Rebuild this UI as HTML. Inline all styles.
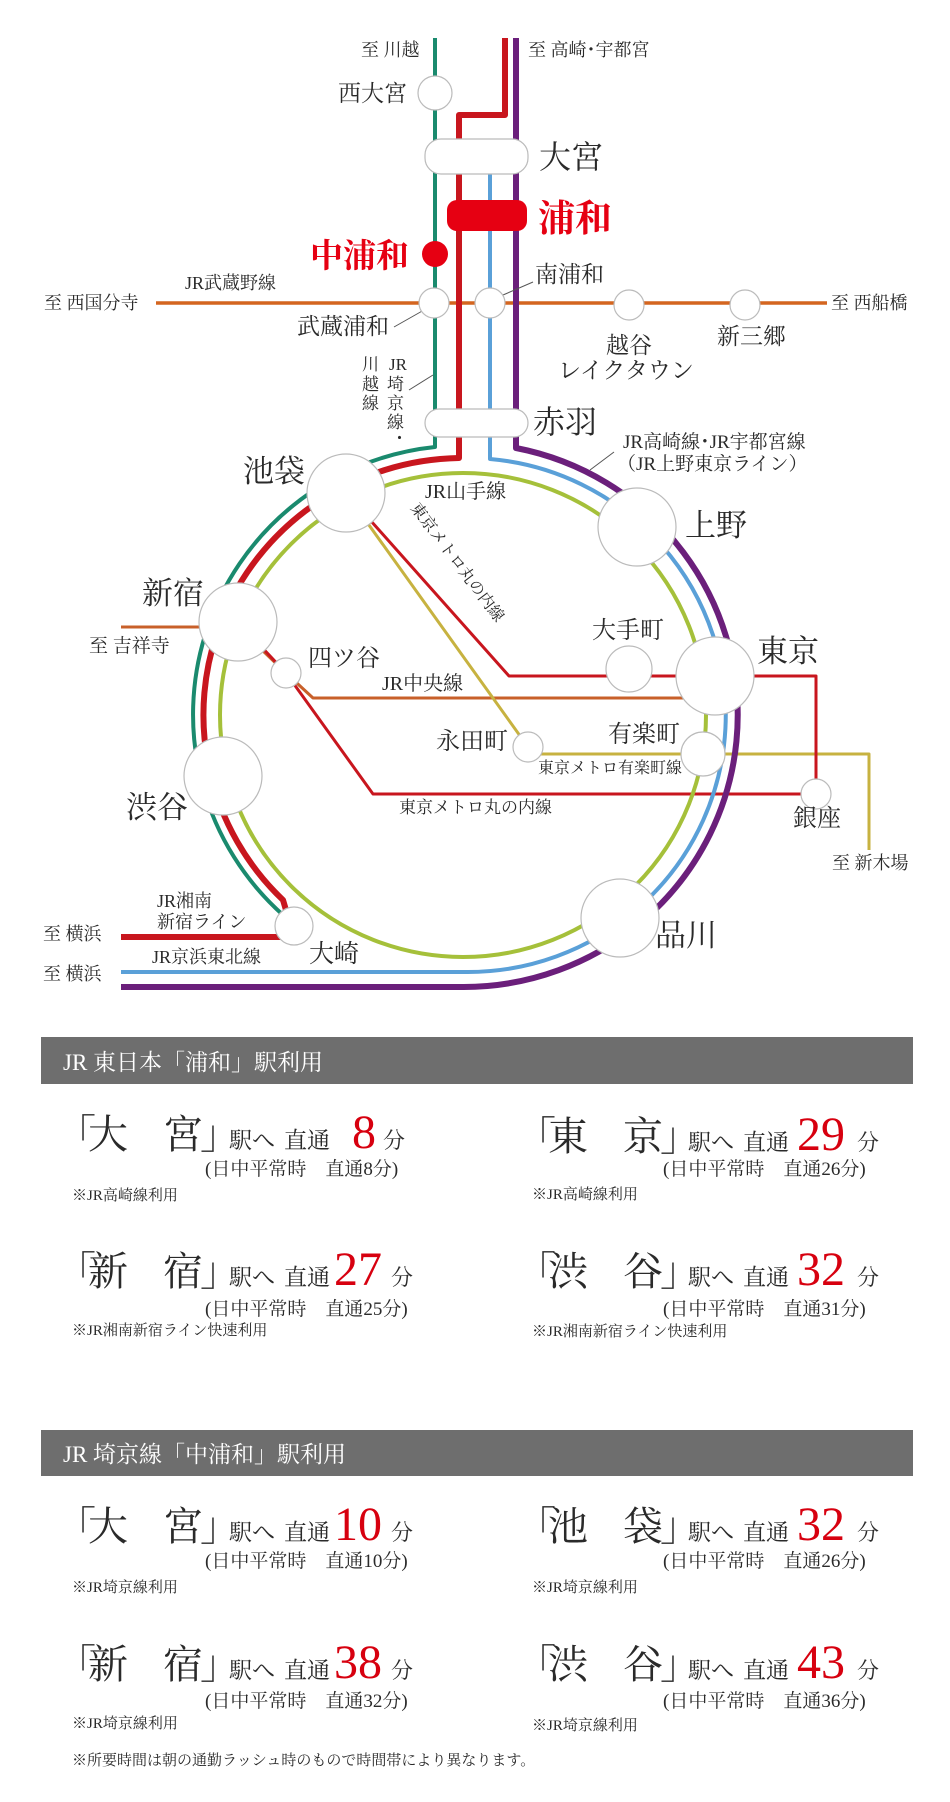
<!DOCTYPE html>
<html><head><meta charset="utf-8"><style>
html,body{margin:0;padding:0;background:#fff;}
svg{display:block;}
text{font-family:"Liberation Serif","Noto Serif CJK SC",serif;fill:#2a2a2a;}
</style></head><body>
<svg width="950" height="1802" viewBox="0 0 950 1802" xmlns="http://www.w3.org/2000/svg">
<g fill="none" stroke-linejoin="round">
<path d="M156 303 H827" stroke="#d4651f" stroke-width="3.5"/>
<path d="M121 627 H238 L286 673 L313 698 H700" stroke="#c8602a" stroke-width="3"/>
<path d="M346 493 L528 747 V754 H869 V850" stroke="#c7b240" stroke-width="3"/>
<path d="M346 493 L509 676 H816 V794" stroke="#c8161e" stroke-width="3"/>
<path d="M238 622 L286 673 L373 794 H816" stroke="#c8161e" stroke-width="3"/>
<ellipse cx="463" cy="715" rx="243" ry="242" stroke="#a5c03a" stroke-width="4"/>
<path d="M435 38 V447 A270 269 0 0 0 283 915 L294 926" stroke="#1a8a6e" stroke-width="4"/>
<path d="M505 38 V115 H459 V458 A260 257 0 0 0 283 900 L294 937 H121" stroke="#c8161e" stroke-width="6"/>
<path d="M490 174 V459 A258 257 0 0 1 463 972 H121" stroke="#5aa0d8" stroke-width="4"/>
<path d="M516 38 V448 A274 272 0 0 1 463 987 H121" stroke="#6b1f7b" stroke-width="6"/>
<path d="M394 327 L424 310 M533 282 L503 295 M409 390 L433 375 M590 470 L614 452" stroke="#555" stroke-width="1"/>
</g>
<g stroke="#bbb" stroke-width="1.2" fill="#fff">
<rect x="425" y="139" width="103" height="35" rx="16"/>
<rect x="425" y="409" width="103" height="28" rx="14"/>
<circle cx="435" cy="93" r="17"/>
<circle cx="434" cy="303" r="15"/>
<circle cx="490" cy="303" r="15"/>
<circle cx="629" cy="305" r="15"/>
<circle cx="745" cy="305" r="15"/>
<circle cx="346" cy="493" r="39"/>
<circle cx="637" cy="527" r="39"/>
<circle cx="238" cy="622" r="39"/>
<circle cx="715" cy="676" r="39"/>
<circle cx="223" cy="776" r="39"/>
<circle cx="620" cy="918" r="39"/>
<circle cx="294" cy="926" r="19"/>
<circle cx="286" cy="673" r="15"/>
<circle cx="629" cy="669" r="23"/>
<circle cx="703" cy="754" r="22"/>
<circle cx="528" cy="747" r="15"/>
<circle cx="816" cy="794" r="15"/>
</g>
<rect x="447" y="200" width="80" height="31" rx="10" fill="#e60012"/>
<circle cx="435" cy="254" r="13" fill="#e60012"/>

<g font-size="18">
<text x="361" y="56">至 川越</text>
<text x="528" y="56">至 高崎･宇都宮</text>
<text x="44" y="309">至 西国分寺</text>
<text x="185" y="289">JR武蔵野線</text>
<text x="831" y="309">至 西船橋</text>
<text x="89" y="652" font-size="19">至 吉祥寺</text>
<text x="832" y="869">至 新木場</text>
<text x="157" y="907">JR湘南</text>
<text x="157" y="928">新宿ライン</text>
<text x="43" y="940">至 横浜</text>
<text x="43" y="980">至 横浜</text>
<text x="152" y="963">JR京浜東北線</text>
</g>
<g font-size="19">
<text x="623" y="448">JR高崎線･JR宇都宮線</text>
<text x="617" y="470">（JR上野東京ライン）</text>
<text x="425" y="498" font-size="20">JR山手線</text>
<text x="382" y="690" font-size="20">JR中央線</text>
</g>
<text x="538" y="773" font-size="16">東京メトロ有楽町線</text>
<text x="399" y="813" font-size="17">東京メトロ丸の内線</text>
<text transform="translate(410,508) rotate(53)" font-size="16">東京メトロ丸の内線</text>
<g font-size="17">
<text x="389" y="370">JR</text><text x="387" y="390">埼</text><text x="387" y="409">京</text><text x="387" y="428">線</text><text x="391" y="444">・</text>
<text x="362" y="370">川</text><text x="362" y="390">越</text><text x="362" y="409">線</text>
</g>
<g font-size="23">
<text x="338" y="101">西大宮</text>
<text x="297" y="334">武蔵浦和</text>
<text x="535" y="282">南浦和</text>
<text x="606" y="353">越谷</text>
<text x="558" y="378">レイクタウン</text>
<text x="717" y="344">新三郷</text>
<text x="308" y="666" font-size="24">四ツ谷</text>
<text x="592" y="638" font-size="24">大手町</text>
<text x="608" y="742" font-size="24">有楽町</text>
<text x="436" y="749" font-size="24">永田町</text>
<text x="793" y="826" font-size="24">銀座</text>
<text x="309" y="962" font-size="25">大崎</text>
</g>
<g font-size="31">
<text x="539" y="168" font-size="32">大宮</text>
<text x="533" y="433" font-size="32">赤羽</text>
<text x="243" y="482">池袋</text>
<text x="685" y="536">上野</text>
<text x="142" y="604">新宿</text>
<text x="757" y="662">東京</text>
<text x="126" y="818">渋谷</text>
<text x="655" y="946">品川</text>
</g>
<text x="538" y="231" font-size="37" font-weight="bold" style="fill:#e60012">浦和</text>
<text x="310" y="267" font-size="33" font-weight="bold" style="fill:#e60012">中浦和</text>

<rect x="41" y="1037" width="872" height="47" fill="#6e6e6e"/>
<text x="63" y="1070" font-size="23" style="fill:#fff">JR 東日本「浦和」駅利用</text>
<rect x="41" y="1430" width="872" height="46" fill="#6e6e6e"/>
<text x="63" y="1462" font-size="23" style="fill:#fff">JR 埼京線「中浦和」駅利用</text>

<g font-size="40">
<text x="56" y="1148">「</text><text x="88" y="1148">大</text><text x="163" y="1148">宮</text><text x="200" y="1148">」</text>
<text x="516" y="1150">「</text><text x="548" y="1150">東</text><text x="623" y="1150">京</text><text x="660" y="1150">」</text>
<text x="56" y="1285">「</text><text x="88" y="1285">新</text><text x="163" y="1285">宿</text><text x="200" y="1285">」</text>
<text x="516" y="1285">「</text><text x="548" y="1285">渋</text><text x="623" y="1285">谷</text><text x="660" y="1285">」</text>
<text x="56" y="1540">「</text><text x="88" y="1540">大</text><text x="163" y="1540">宮</text><text x="200" y="1540">」</text>
<text x="516" y="1540">「</text><text x="548" y="1540">池</text><text x="623" y="1540">袋</text><text x="660" y="1540">」</text>
<text x="56" y="1678">「</text><text x="88" y="1678">新</text><text x="163" y="1678">宿</text><text x="200" y="1678">」</text>
<text x="516" y="1678">「</text><text x="548" y="1678">渋</text><text x="623" y="1678">谷</text><text x="660" y="1678">」</text>
</g>
<g font-size="23">
<text x="229" y="1148">駅へ</text><text x="284" y="1148">直通</text>
<text x="688" y="1150">駅へ</text><text x="743" y="1150">直通</text>
<text x="229" y="1285">駅へ</text><text x="284" y="1285">直通</text>
<text x="688" y="1285">駅へ</text><text x="743" y="1285">直通</text>
<text x="229" y="1540">駅へ</text><text x="284" y="1540">直通</text>
<text x="688" y="1540">駅へ</text><text x="743" y="1540">直通</text>
<text x="229" y="1678">駅へ</text><text x="284" y="1678">直通</text>
<text x="688" y="1678">駅へ</text><text x="743" y="1678">直通</text>
</g>
<g font-size="22">
<text x="383" y="1148">分</text><text x="857" y="1150">分</text>
<text x="391" y="1285">分</text><text x="857" y="1285">分</text>
<text x="391" y="1540">分</text><text x="857" y="1540">分</text>
<text x="391" y="1678">分</text><text x="857" y="1678">分</text>
</g>
<g font-size="48">
<text x="352" y="1148" style="fill:#d7000f">8</text><text x="797" y="1150" style="fill:#d7000f">29</text>
<text x="334" y="1285" style="fill:#d7000f">27</text><text x="797" y="1285" style="fill:#d7000f">32</text>
<text x="334" y="1540" style="fill:#d7000f">10</text><text x="797" y="1540" style="fill:#d7000f">32</text>
<text x="334" y="1678" style="fill:#d7000f">38</text><text x="797" y="1678" style="fill:#d7000f">43</text>
</g>
<g font-size="19">
<text x="205" y="1175">(日中平常時　直通8分)</text><text x="663" y="1175">(日中平常時　直通26分)</text>
<text x="205" y="1315">(日中平常時　直通25分)</text><text x="663" y="1315">(日中平常時　直通31分)</text>
<text x="205" y="1567">(日中平常時　直通10分)</text><text x="663" y="1567">(日中平常時　直通26分)</text>
<text x="205" y="1707">(日中平常時　直通32分)</text><text x="663" y="1707">(日中平常時　直通36分)</text>
</g>
<g font-size="15">
<text x="72" y="1200">※JR高崎線利用</text><text x="532" y="1199">※JR高崎線利用</text>
<text x="72" y="1335">※JR湘南新宿ライン快速利用</text><text x="532" y="1336">※JR湘南新宿ライン快速利用</text>
<text x="72" y="1592">※JR埼京線利用</text><text x="532" y="1592">※JR埼京線利用</text>
<text x="72" y="1728">※JR埼京線利用</text><text x="532" y="1730">※JR埼京線利用</text>
<text x="72" y="1765">※所要時間は朝の通勤ラッシュ時のもので時間帯により異なります。</text>
</g>
</svg>
</body></html>
